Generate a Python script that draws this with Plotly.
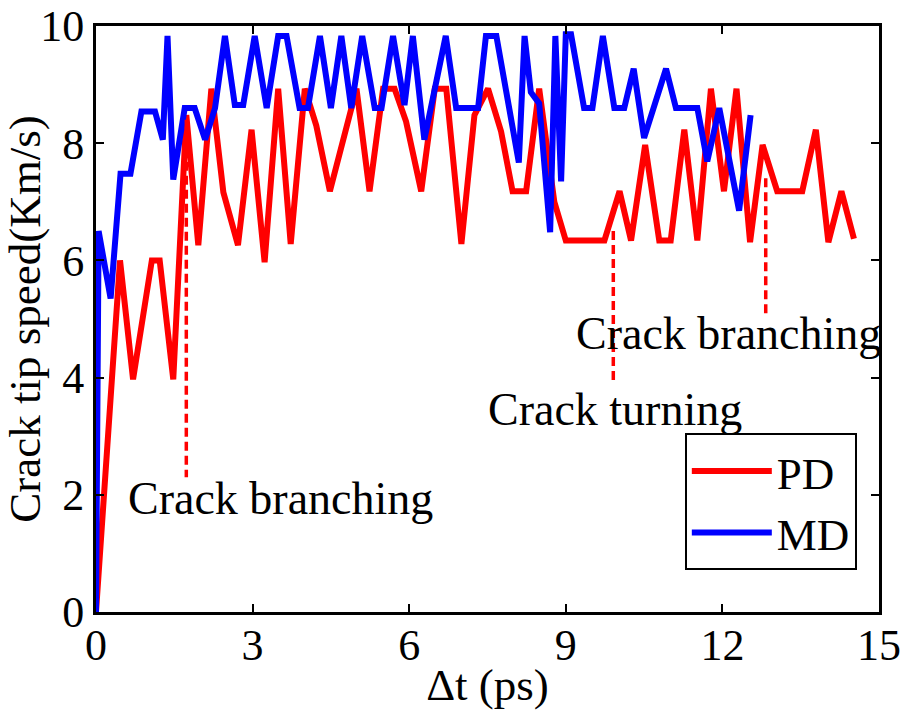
import plotly.graph_objects as go

# Crack tip speed histories (time in ps, speed in km/s)
pd_t = [0, 0.46, 0.71, 1.07, 1.22, 1.48, 1.73, 1.96, 2.21, 2.44, 2.72, 2.98, 3.23,
        3.49, 3.73, 4.0, 4.22, 4.48, 4.99, 5.24, 5.5, 5.72, 5.94, 6.23, 6.49, 6.71,
        7.0, 7.25, 7.51, 7.76, 7.98, 8.24, 8.49, 8.78, 9.0, 9.74, 10.03, 10.25,
        10.52, 10.79, 11.01, 11.27, 11.52, 11.78, 12.03, 12.27, 12.53, 12.77,
        13.05, 13.53, 13.79, 14.03, 14.28, 14.52]
pd_v = [0, 6.0, 3.97, 6.0, 6.0, 3.97, 8.48, 6.26, 8.93, 7.16, 6.26, 8.23, 5.97,
        8.93, 6.28, 8.93, 8.3, 7.18, 8.93, 7.18, 8.93, 8.93, 8.37, 7.18, 8.93, 8.93,
        6.28, 8.48, 8.93, 8.2, 7.18, 7.18, 8.93, 7.0, 6.34, 6.34, 7.18, 6.34,
        7.97, 6.34, 6.34, 8.23, 6.34, 8.93, 7.18, 8.93, 6.31, 7.97,
        7.18, 7.18, 8.23, 6.31, 7.18, 6.37]

md_t = [0, 0.05, 0.28, 0.47, 0.66, 0.87, 1.13, 1.28, 1.37, 1.48, 1.70, 1.89, 2.09,
        2.28, 2.47, 2.66, 2.82, 3.04, 3.27, 3.49, 3.65, 3.9, 4.06, 4.29, 4.5, 4.70,
        4.89, 5.10, 5.34, 5.47, 5.69, 5.91, 6.07, 6.29, 6.70, 6.90, 7.32, 7.47,
        7.67, 8.10, 8.21, 8.33, 8.49, 8.70, 8.80, 8.91, 9.0, 9.10, 9.35, 9.51,
        9.71, 9.93, 10.12, 10.30, 10.50, 10.92, 11.11, 11.52, 11.71, 11.94,
        12.32, 12.54]
md_v = [0, 6.5, 5.35, 7.48, 7.48, 8.54, 8.54, 8.06, 9.83, 7.38, 8.6, 8.6, 8.06,
        8.6, 9.83, 8.65, 8.65, 9.83, 8.6, 9.83, 9.83, 8.6, 8.6, 9.83, 8.6, 9.83,
        8.6, 9.83, 8.6, 8.6, 9.83, 8.65, 9.83, 8.06, 9.83, 8.6, 8.6, 9.83,
        9.83, 7.67, 9.83, 8.87, 8.68, 6.48, 9.83, 7.35, 9.86, 9.86, 8.6, 8.6,
        9.83, 8.6, 8.6, 9.27, 8.09, 9.27, 8.6, 8.6, 7.69, 8.6,
        6.85, 8.48]

# Event markers: dashed drop lines and their labels
event_labels = ["Crack branching", "Crack turning", "Crack branching"]
event_t = [1.73, 9.91, 12.83]
event_top = [8.4, 6.5, 7.4]
event_bottom = [2.3, 3.92, 5.07]
label_t = [3.54, 9.94, 12.12]
label_v = [1.94, 3.46, 4.76]

FONT = "Liberation Serif, Times New Roman, serif"

fig = go.Figure()
fig.add_trace(go.Scatter(x=pd_t, y=pd_v, mode="lines", name="PD",
                         line=dict(color="#ff0000", width=6)))
fig.add_trace(go.Scatter(x=md_t, y=md_v, mode="lines", name="MD",
                         line=dict(color="#0000ff", width=6)))

for t, top, bot in zip(event_t, event_top, event_bottom):
    fig.add_trace(go.Scatter(x=[t, t], y=[top, bot], mode="lines", showlegend=False,
                             line=dict(color="#ff0000", width=3.5, dash="9px,5px")))

for txt, x, y in zip(event_labels, label_t, label_v):
    fig.add_annotation(x=x, y=y, text=txt, showarrow=False,
                       font=dict(family=FONT, size=46, color="black"))

axis_common = dict(showline=True, linecolor="black", linewidth=3, mirror="ticks",
                   ticks="inside", ticklen=8, tickwidth=2, tickcolor="black",
                   showgrid=False, zeroline=False, ticklabeloverflow="allow",
                   automargin=False,
                   tickfont=dict(family=FONT, size=44, color="black"))

fig.update_xaxes(range=[0, 15], tickvals=[0, 3, 6, 9, 12, 15],
                 ticklabelstandoff=-8,
                 title=dict(text="Δt (ps)", font=dict(family=FONT, size=45, color="black"),
                            standoff=0),
                 **axis_common)
fig.update_yaxes(range=[0, 10], tickvals=[0, 2, 4, 6, 8, 10],
                 title=dict(text="Crack tip speed(Km/s)",
                            font=dict(family=FONT, size=45, color="black"), standoff=2),
                 **axis_common)

fig.update_layout(
    width=909, height=722,
    margin=dict(l=96, r=30, t=26, b=110),
    plot_bgcolor="white", paper_bgcolor="white",
    legend=dict(x=0.752, y=0.305, xanchor="left", yanchor="top",
                bordercolor="black", borderwidth=2, bgcolor="white",
                font=dict(family=FONT, size=45, color="black"),
                itemwidth=80, tracegroupgap=0),
)

fig.write_html("out.html")
